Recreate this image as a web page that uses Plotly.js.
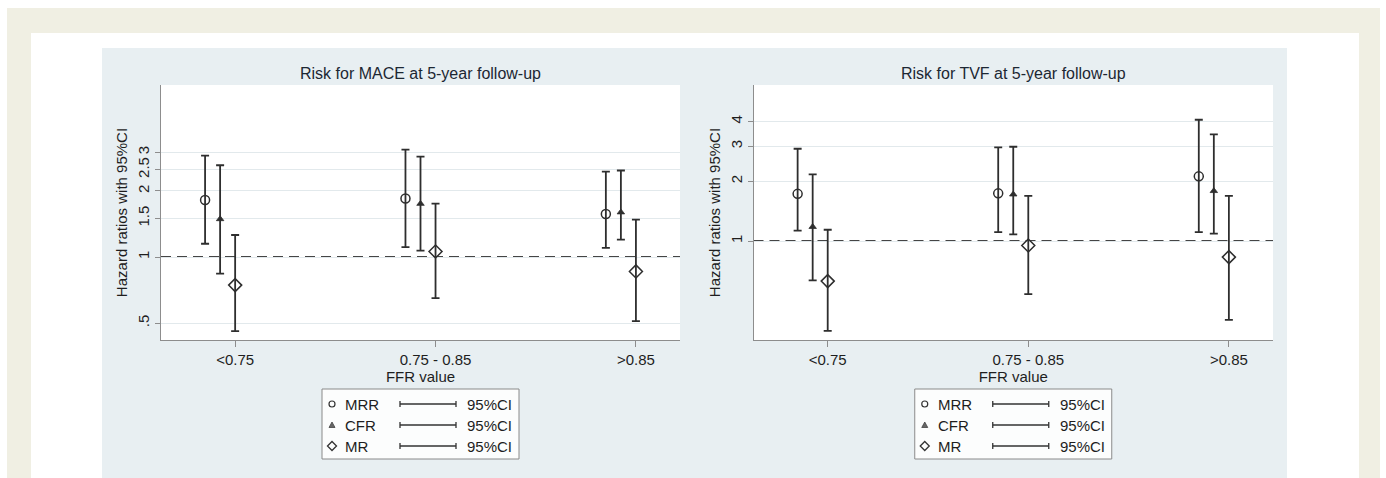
<!DOCTYPE html>
<html><head><meta charset="utf-8">
<script src="https://cdn.plot.ly/plotly-3.0.1.min.js"></script>
<style>html,body{margin:0;padding:0;background:#fff;} #chart{width:1386px;height:478px;}</style>
</head><body><div id="chart"></div>
<script>
// ---------- data ----------
const categories = ['<0.75', '0.75 - 0.85', '>0.85'];
const seriesNames = ['MRR', 'CFR', 'MR'];
const panelTitles = ['Risk for MACE at 5-year follow-up', 'Risk for TVF at 5-year follow-up'];
const xTitle = 'FFR value';
const yTitle = 'Hazard ratios with 95%CI';
const ciLabel = '95%CI';

// MACE (hazard ratio, lower, upper)
const maceMRR = [1.82, 1.85, 1.57];
const maceMRRLow = [1.15, 1.11, 1.10];
const maceMRRHigh = [2.90, 3.09, 2.45];
const maceCFR = [1.49, 1.75, 1.60];
const maceCFRLow = [0.84, 1.07, 1.20];
const maceCFRHigh = [2.62, 2.87, 2.48];
const maceMR = [0.745, 1.06, 0.86];
const maceMRLow = [0.46, 0.65, 0.51];
const maceMRHigh = [1.26, 1.75, 1.48];

// TVF
const tvfMRR = [1.73, 1.74, 2.12];
const tvfMRRLow = [1.13, 1.11, 1.11];
const tvfMRRHigh = [2.92, 2.97, 4.09];
const tvfCFR = [1.18, 1.72, 1.79];
const tvfCFRLow = [0.634, 1.08, 1.09];
const tvfCFRHigh = [2.17, 2.99, 3.45];
const tvfMR = [0.628, 0.95, 0.83];
const tvfMRLow = [0.352, 0.54, 0.40];
const tvfMRHigh = [1.14, 1.69, 1.69];

const maceTickVals = [0.5, 1, 1.5, 2, 2.5, 3];
const maceTickText = ['.5', '1', '1.5', '2', '2.5', '3'];
const tvfTickVals = [1, 2, 3, 4];
const tvfTickText = ['1', '2', '3', '4'];
const refLine = 1;

// ---------- styling / layout ----------
const W = 1386, H = 478;
const px = x => x / W;
const py = y => 1 - y / H;
const FONT = '"Liberation Sans", Arial, sans-serif';
const ink = '#1e1e1e';
const axisGray = '#8d8d8d';
const seriesOffsets = [-0.15, -0.075, 0];
const seriesMarkers = [
  {symbol: 'circle-open', size: 9, color: '#2e2e2e', line: {width: 1.5, color: '#2e2e2e'}},
  {symbol: 'triangle-up', size: 6.5, color: '#2e2e2e', line: {width: 0.8, color: '#2e2e2e'}},
  {symbol: 'diamond-open', size: 10, color: '#2e2e2e', line: {width: 1.5, color: '#2e2e2e'}}
];

const panels = [
  {hr: [maceMRR, maceCFR, maceMR], lo: [maceMRRLow, maceCFRLow, maceMRLow], hi: [maceMRRHigh, maceCFRHigh, maceMRHigh],
   tv: maceTickVals, tt: maceTickText, yr: [-0.378, 0.784], left: 161, right: 680, xa: 'x', ya: 'y'},
  {hr: [tvfMRR, tvfCFR, tvfMR], lo: [tvfMRRLow, tvfCFRLow, tvfMRLow], hi: [tvfMRRHigh, tvfCFRHigh, tvfMRHigh],
   tv: tvfTickVals, tt: tvfTickText, yr: [-0.499, 0.787], left: 753.5, right: 1273, xa: 'x2', ya: 'y2'}
];
const plotTop = 85, plotBottom = 340;

const esc = s => s.replace(/</g, '&lt;').replace(/>/g, '&gt;');

const traces = [];
panels.forEach(p => {
  seriesNames.forEach((name, si) => {
    const xs = categories.map((c, ci) => ci + 1 + seriesOffsets[si]);
    traces.push({
      type: 'scatter', mode: 'markers', name: name,
      x: xs, y: p.hr[si], xaxis: p.xa, yaxis: p.ya,
      marker: seriesMarkers[si],
      error_y: {type: 'data', symmetric: false,
        array: p.hr[si].map((v, i) => p.hi[si][i] - v),
        arrayminus: p.hr[si].map((v, i) => v - p.lo[si][i]),
        color: '#2e2e2e', thickness: 1.8, width: 4},
      hoverinfo: 'skip', showlegend: false
    });
  });
});

const shapes = [
  {type: 'rect', xref: 'paper', yref: 'paper', x0: px(7), x1: px(1380), y0: 0, y1: py(8), fillcolor: '#f0efe3', line: {width: 0}, layer: 'below'},
  {type: 'rect', xref: 'paper', yref: 'paper', x0: px(31), x1: px(1359), y0: 0, y1: py(33), fillcolor: '#ffffff', line: {width: 0}, layer: 'below'},
  {type: 'rect', xref: 'paper', yref: 'paper', x0: px(102), x1: px(1287), y0: 0, y1: py(48), fillcolor: '#e8eff2', line: {width: 0}, layer: 'below'}
];
const annotations = [];
const layout = {
  width: W, height: H, margin: {l: 0, r: 0, t: 0, b: 0},
  paper_bgcolor: '#ffffff', plot_bgcolor: 'rgba(0,0,0,0)',
  font: {family: FONT, size: 15, color: ink},
  showlegend: false
};

panels.forEach((p, k) => {
  const sfx = k === 0 ? '' : '2';
  layout['xaxis' + sfx] = {
    domain: [px(p.left), px(p.right)], range: [0.63, 3.22], anchor: p.ya,
    tickvals: categories.map((c, i) => i + 1), ticktext: categories.map(esc),
    ticks: 'outside', ticklen: 6, tickcolor: axisGray, tickwidth: 1,
    showline: true, linecolor: axisGray, linewidth: 1,
    showgrid: false, zeroline: false,
    tickfont: {size: 15, color: ink, family: FONT},
    title: {text: xTitle, font: {size: 15, color: ink, family: FONT}, standoff: 0}
  };
  layout['yaxis' + sfx] = {
    domain: [py(plotBottom), py(plotTop)], type: 'log', range: p.yr, anchor: p.xa,
    tickvals: p.tv, ticktext: p.tt, tickangle: -90,
    ticks: 'outside', ticklen: 5, tickcolor: axisGray, tickwidth: 1,
    showline: true, linecolor: axisGray, linewidth: 1,
    showgrid: true, gridcolor: '#e2e9ec', gridwidth: 1, zeroline: false,
    tickfont: {size: 15, color: ink, family: FONT},
    title: {text: yTitle, font: {size: 15, color: ink, family: FONT}, standoff: 3}
  };
  // plot area background
  shapes.push({type: 'rect', xref: p.xa + ' domain', yref: p.ya + ' domain', x0: 0, x1: 1, y0: 0, y1: 1,
    fillcolor: '#ffffff', line: {width: 0}, layer: 'below'});
  // reference line
  shapes.push({type: 'line', xref: p.xa + ' domain', yref: p.ya, x0: 0, x1: 1, y0: refLine, y1: refLine,
    line: {color: '#454545', width: 2, dash: '10px,6px'}, layer: 'below'});
  // title
  const cx = (p.left + p.right) / 2;
  annotations.push({xref: 'paper', yref: 'paper', x: px(cx), y: py(73), text: panelTitles[k], showarrow: false,
    xanchor: 'center', yanchor: 'middle', font: {size: 16, color: '#1c2733', family: FONT}});
  // legend box
  const bx = cx - 98.5, by = 389, bw = 197, bh = 70;
  shapes.push({type: 'rect', xref: 'paper', yref: 'paper', x0: px(bx), x1: px(bx + bw), y0: py(by + bh), y1: py(by),
    fillcolor: '#fcfdfd', line: {color: '#8a8a8a', width: 1}});
  const rowOff = [15, 36, 57];
  seriesNames.forEach((name, si) => {
    const ry = by + rowOff[si];
    const mx = bx + 10;
    if (si === 0) {
      shapes.push({type: 'circle', xref: 'paper', yref: 'paper', x0: px(mx - 3), x1: px(mx + 3), y0: py(ry + 3), y1: py(ry - 3),
        line: {color: '#333', width: 1.2}, fillcolor: 'rgba(0,0,0,0)'});
    } else if (si === 1) {
      shapes.push({type: 'path', xref: 'paper', yref: 'paper',
        path: `M ${px(mx - 3)} ${py(ry + 2.5)} L ${px(mx + 3)} ${py(ry + 2.5)} L ${px(mx)} ${py(ry - 3)} Z`,
        line: {color: '#444', width: 0.8}, fillcolor: '#666'});
    } else {
      shapes.push({type: 'path', xref: 'paper', yref: 'paper',
        path: `M ${px(mx - 4.5)} ${py(ry)} L ${px(mx)} ${py(ry - 4.5)} L ${px(mx + 4.5)} ${py(ry)} L ${px(mx)} ${py(ry + 4.5)} Z`,
        line: {color: '#333', width: 1.3}, fillcolor: 'rgba(0,0,0,0)'});
    }
    annotations.push({xref: 'paper', yref: 'paper', x: px(bx + 21), y: py(ry), text: name, showarrow: false,
      xanchor: 'left', yanchor: 'middle', font: {size: 15, color: ink, family: FONT}});
    const l0 = bx + 78, l1 = bx + 134;
    shapes.push({type: 'line', xref: 'paper', yref: 'paper', x0: px(l0), x1: px(l1), y0: py(ry), y1: py(ry), line: {color: '#333', width: 1.3}});
    shapes.push({type: 'line', xref: 'paper', yref: 'paper', x0: px(l0), x1: px(l0), y0: py(ry - 3), y1: py(ry + 3), line: {color: '#333', width: 1.3}});
    shapes.push({type: 'line', xref: 'paper', yref: 'paper', x0: px(l1), x1: px(l1), y0: py(ry - 3), y1: py(ry + 3), line: {color: '#333', width: 1.3}});
    annotations.push({xref: 'paper', yref: 'paper', x: px(bx + 143), y: py(ry), text: ciLabel, showarrow: false,
      xanchor: 'left', yanchor: 'middle', font: {size: 15, color: ink, family: FONT}});
  });
});
layout.shapes = shapes;
layout.annotations = annotations;

Plotly.newPlot('chart', traces, layout, {displayModeBar: false, staticPlot: true});
</script>
</body></html>
